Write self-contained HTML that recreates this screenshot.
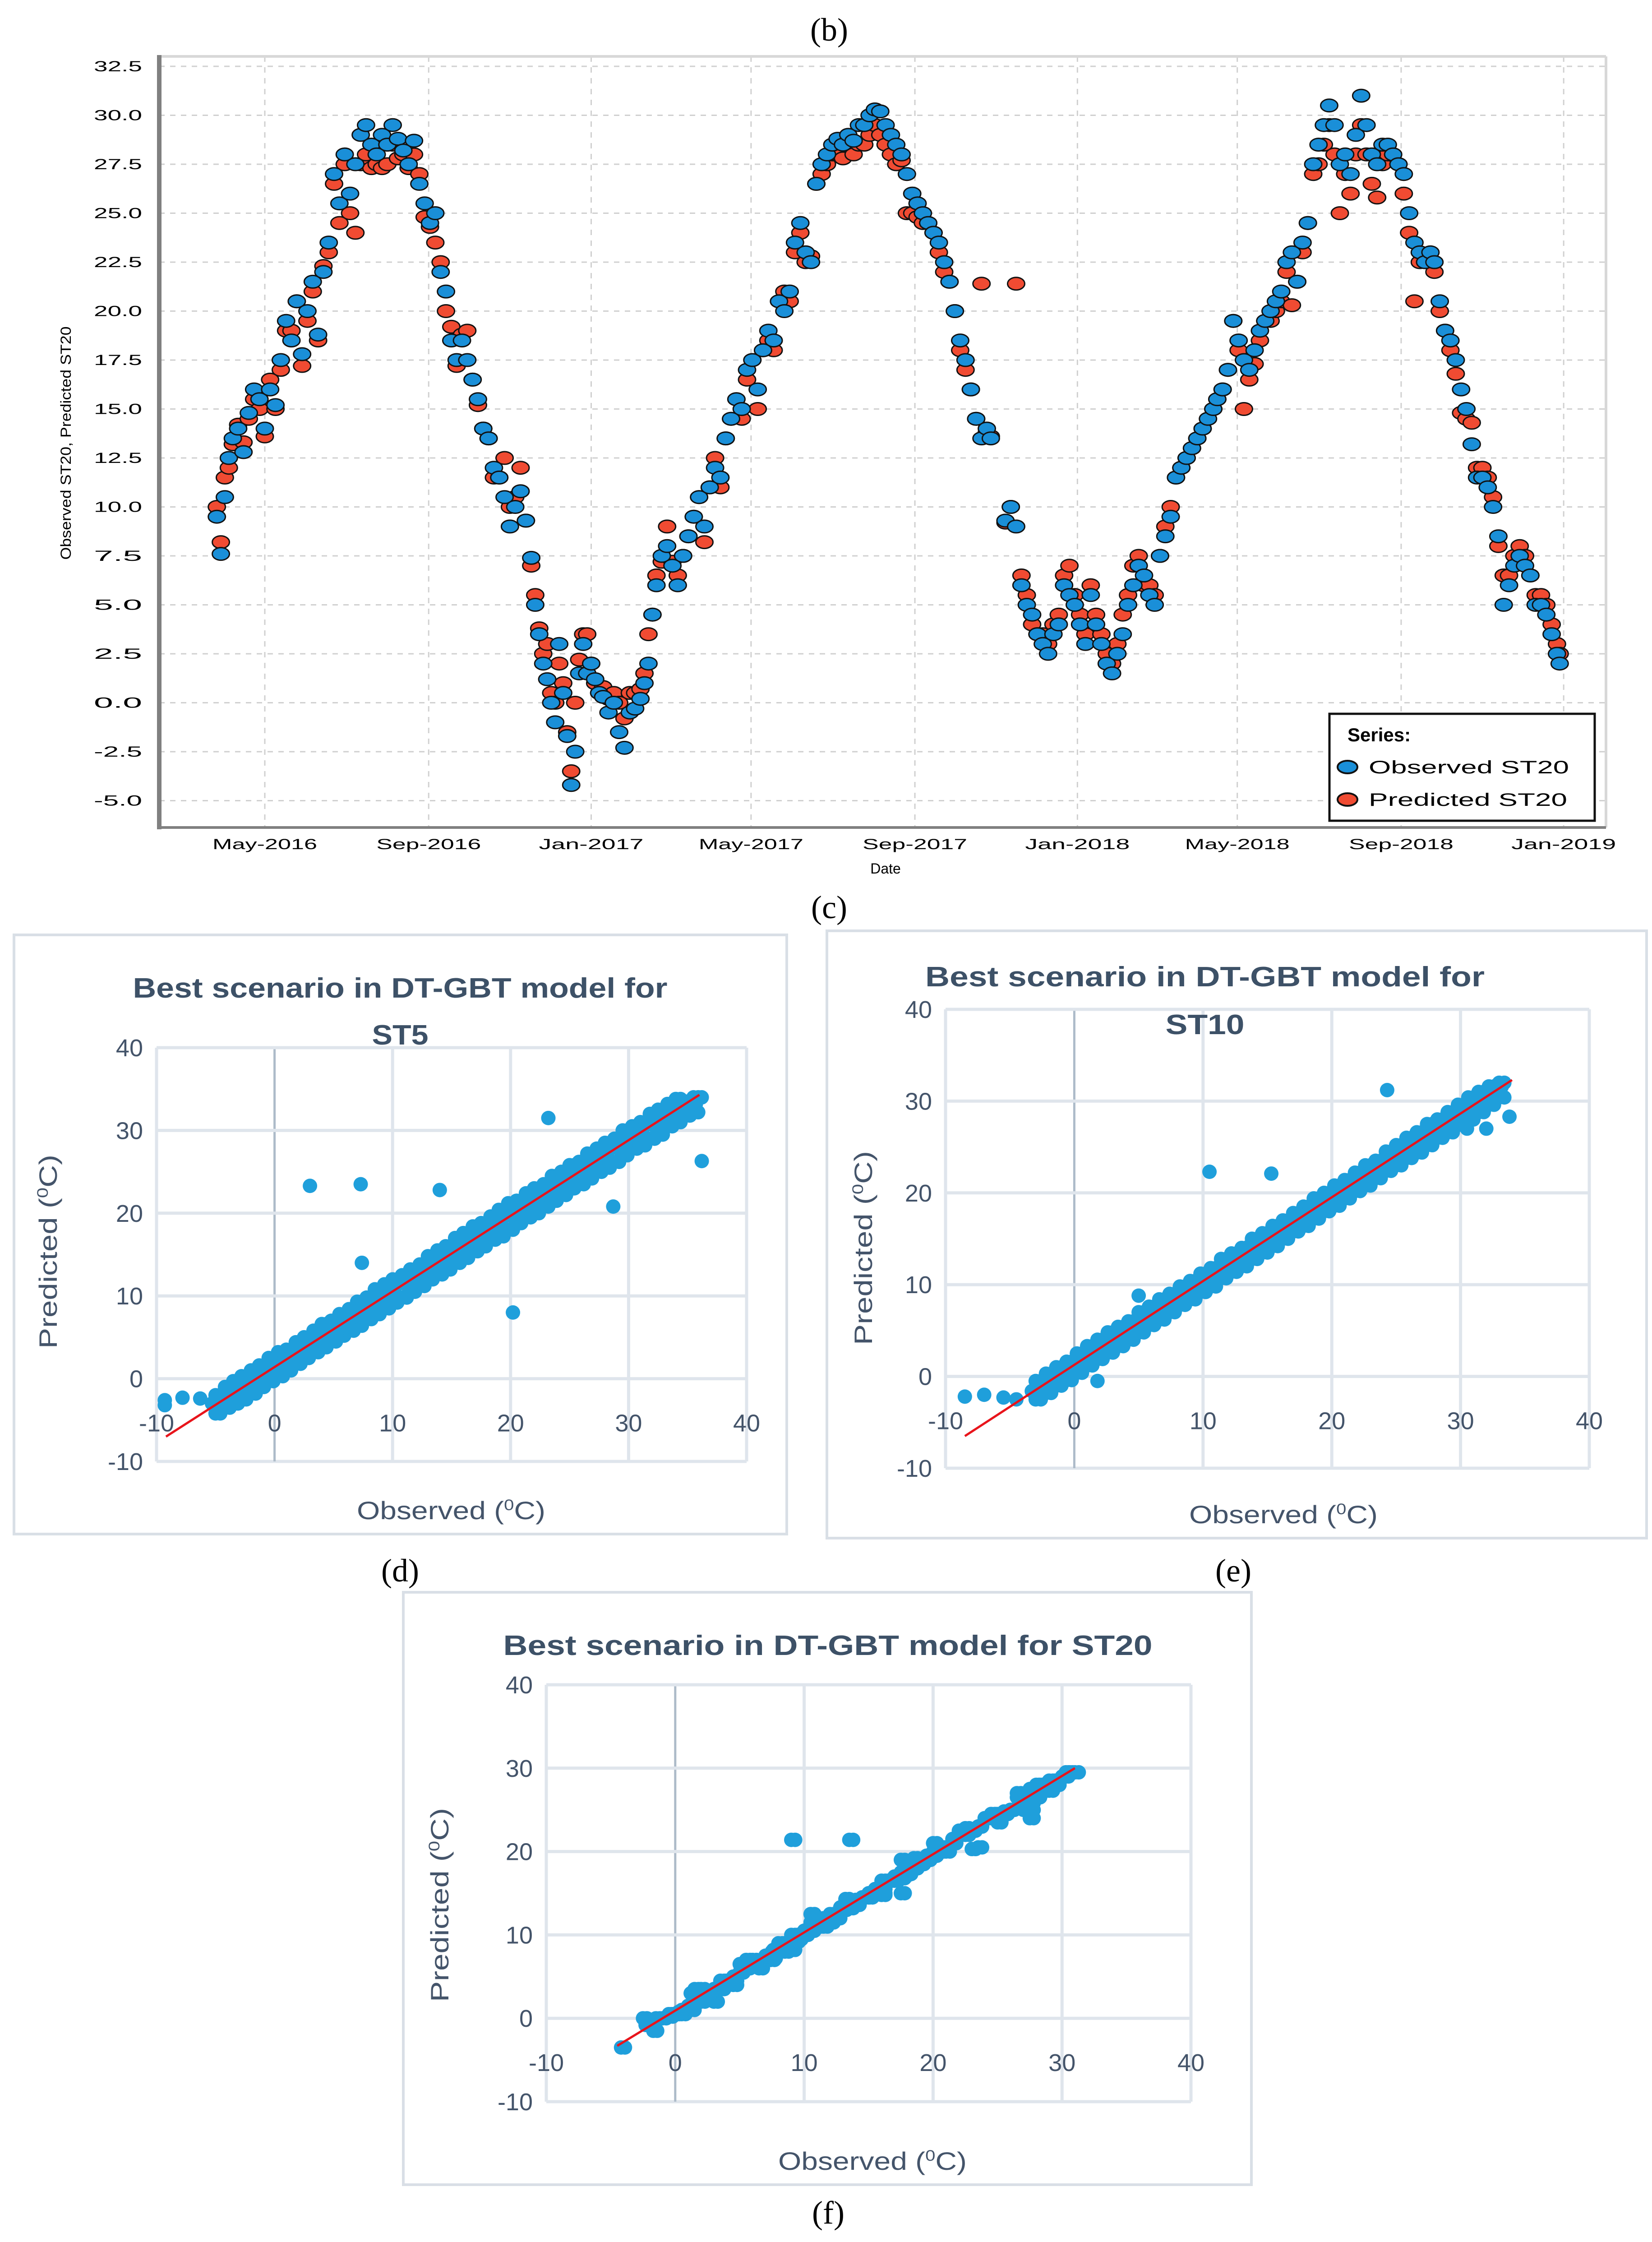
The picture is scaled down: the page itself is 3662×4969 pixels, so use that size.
<!DOCTYPE html>
<html><head><meta charset="utf-8"><style>
html,body{margin:0;padding:0;background:#fff}
svg{display:block}
</style></head><body>
<svg id="fig" xmlns="http://www.w3.org/2000/svg" width="3662" height="4969" viewBox="0 0 3662 4969">
<rect x="0" y="0" width="3662" height="4969" fill="#fff"/>
<g id="ts"></g>
<g id="scD"></g>
<g id="scE"></g>
<g id="scF"></g>
<g font-family="Liberation Serif, serif" font-size="72" fill="#000" text-anchor="middle">
<text x="1838" y="90">(b)</text>
<text x="1838" y="2035">(c)</text>
<text x="887" y="3505">(d)</text>
<text x="2734" y="3505">(e)</text>
<text x="1836" y="4928">(f)</text>
</g>
</svg>
<script>
// ---------- Time-series data (day offset from 1 May 2016) ----------
const tsDays = [
-36,-33,-30,-27,-24,-20,-16,-12,-8,-4,
0,4,8,12,16,20,24,28,32,36,
40,44,48,52,56,60,64,68,72,76,
80,84,88,92,96,100,104,108,112,116,
120,124,128,132,136,140,144,148,152,156,
160,164,168,172,176,180,184,188,192,196,
200,203,206,209,212,215,218,221,224,227,
230,233,236,239,242,245,248,251,254,258,
262,266,270,274,278,282,285,288,291,294,
298,302,306,310,314,318,322,326,330,334,
338,342,346,350,354,358,362,366,370,374,
378,382,386,390,394,398,402,406,410,414,
418,422,426,430,434,438,442,446,450,454,
458,462,466,470,474,478,482,486,490,494,
498,502,506,510,514,518,522,526,530,534,
538,542,545,556,560,564,568,572,576,580,
584,588,592,596,600,604,608,612,616,620,
624,628,632,636,640,644,648,652,656,660,
664,668,672,676,680,684,688,692,696,700,
704,708,712,715,719,723,727,731,735,739,
743,747,751,755,759,763,767,771,775,779,
783,787,791,795,799,803,807,811,815,819,
823,827,831,835,839,843,847,851,855,859,
863,867,871,875,878,882,886,890,894,898,
902,906,910,914,918,922,926,930,934,938,
942,946,950,954,958,962,966,970,972];
const obsST20 = [
9.5,7.6,10.5,12.5,13.5,14,12.8,14.8,16,15.5,
14,16,15.2,17.5,19.5,18.5,20.5,17.8,20,21.5,
18.8,22,23.5,27,25.5,28,26,27.5,29,29.5,
28.5,28,29,28.5,29.5,28.8,28.2,27.5,28.7,26.5,
25.5,24.5,25,22,21,18.5,17.5,18.5,17.5,16.5,
15.5,14,13.5,12,11.5,10.5,9,10,10.8,9.3,
7.4,5,3.5,2,1.2,0,-1,3,0.5,-1.7,
-4.2,-2.5,1.5,3,1.5,2,1.2,0.5,0.3,-0.5,
0,-1.5,-2.3,-0.5,-0.3,0.2,1,2,4.5,6,
7.5,8,7,6,7.5,8.5,9.5,10.5,9,11,
12,11.5,13.5,14.5,15.5,15,17,17.5,16,18,
19,18.5,20.5,20,21,23.5,24.5,23,22.5,26.5,
27.5,28,28.5,28.8,28.5,29,28.7,29.5,29.5,30,
30.3,30.2,29.5,29,28.5,28,27,26,25.5,25,
24.5,24,23.5,22.5,21.5,20,18.5,17.5,16,14.5,
13.5,14,13.5,9.3,10,9,6,5,4.5,3.5,
3,2.5,3.5,4,6,5.5,5,4,3,5.5,
4,3,2,1.5,2.5,3.5,5,6,7,6.5,
5.5,5,7.5,8.5,9.5,11.5,12,12.5,13,13.5,
14,14.5,15,15.5,16,17,19.5,18.5,17.5,17,
18,19,19.5,20,20.5,21,22.5,23,21.5,23.5,
24.5,27.5,28.5,29.5,30.5,29.5,27.5,28,27,29,
31,29.5,28,27.5,28.5,28.5,28,27.5,27,25,
23.5,23,22.5,23,22.5,20.5,19,18.5,17.5,16,
15,13.2,11.5,11.5,11,10,8.5,5,6,7,
7.5,7,6.5,5,5,4.5,3.5,2.5,2];
const predST20 = [
10,8.2,11.5,12,13.2,14.2,13.3,14.5,15.5,15,
13.6,16.5,15,17,19,19,20.5,17.2,19.5,21,
18.5,22.3,23,26.5,24.5,27.5,25,24,27.5,28,
27.3,27.5,27.3,27.5,28.5,27.8,28,27.3,28,27,
24.8,24.3,23.5,22.5,20,19.2,17.2,18.8,19,16.5,
15.2,14,13.5,11.5,11.5,12.5,10,10.5,12,9.3,
7,5.5,3.8,2.5,3,0.5,0,2,1,-1.5,
-3.5,0,2.2,3.5,3.5,2,1,0.5,0.8,0.2,
0.5,0,-0.8,0.5,0.5,0.7,1.5,3.5,4.5,6.5,
7.2,9,7.2,6.5,7.5,8.5,9.5,10.5,8.2,11,
12.5,11,13.5,14.5,15.5,14.5,16.5,17.5,15,18,
18.5,18,20.5,21,20.5,23,24,22.5,22.8,26.5,
27,27.5,28,28,27.8,28.5,28,28.5,28.5,29,
29.5,29,28.5,28,27.5,27.7,25,25,24.8,24.5,
24.5,24,23,22,21.5,20,18,17,16,14.5,
21.4,13.8,13.6,9.2,10,21.4,6.5,5.5,4,3.5,
3.5,3,4,4.5,6.5,7,5.5,4.5,3.5,6,
4.5,3.5,2.5,2,3,4.5,5.5,7,7.5,6,
6,5.5,7.5,9,10,11.5,12,12.5,13,13.5,
14,14.5,15,15.5,16,17,19.5,18,15,16.5,
17.3,18.5,19.5,19.5,20,20.5,22,20.3,21.5,23,
24.5,27,27.5,28.5,29.5,28,25,27,26,28,
29.5,28,26.5,25.8,27.5,28,28,27.5,26,24,
20.5,22.5,22.5,22.5,22,20,19,18,16.8,14.8,
14.5,14.3,12,12,11.5,10.5,8,6.5,6.5,7.5,
8,7.5,6.5,5.5,5.5,5,4,3,2.5];
const tsYTicks = [-5,-2.5,0,2.5,5,7.5,10,12.5,15,17.5,20,22.5,25,27.5,30,32.5];
const tsXTickDays = [0,123,245,365,488,610,730,853,975];
const tsXTickLabels = ['May-2016','Sep-2016','Jan-2017','May-2017','Sep-2017','Jan-2018','May-2018','Sep-2018','Jan-2019'];

// ---------- Scatter data ----------
const obsST5 = [-5,-4.2,-3.5,-2.8,-2,-1.3,-0.5,0.3,1,1.8,2.5,3.3,4,4.8,5.5,6.3,7,7.8,8.5,9.3,10,10.8,11.5,12.3,13,13.8,14.5,15.3,16,16.8,17.5,18.3,19,19.8,20.5,21.3,22,22.8,23.5,24.3,25,25.8,26.5,27.3,28,28.8,29.5,30.3,31,31.8,32.5,33.3,34,34.8,35.5];
const predST5Hi = [-2.0,-1.0,-0.3,0.3,1.0,1.6,2.5,3.2,3.5,4.4,5.0,5.8,6.6,7.0,7.8,8.4,9.3,9.8,10.8,11.4,12.0,12.5,13.2,13.8,14.8,15.5,16.0,17.0,17.6,18.4,18.8,19.6,20.4,21.2,21.5,22.4,23.0,23.5,24.5,25.0,25.8,26.2,27.2,27.8,28.5,29.0,30.0,30.5,31.0,32.0,32.5,33.2,33.8,33.5,34.0];
const predST5Mid = [-3.0,-2.2,-1.9,-1.0,-0.5,0.4,0.8,1.9,2.1,3.2,3.5,4.6,4.9,6.0,6.2,7.4,7.6,8.7,9.0,10.1,10.3,11.5,11.7,12.8,13.1,14.2,14.5,15.6,15.8,17.0,17.2,18.3,18.6,19.7,19.9,21.1,21.3,22.4,22.7,23.8,24.1,25.2,25.4,26.6,26.8,27.9,28.2,29.3,29.5,30.7,30.9,31.6,32.3,32.6,33.2];
const predST5Lo = [-4.2,-3.5,-3.0,-2.5,-1.8,-1.0,-0.3,0.3,1.0,1.8,2.5,3.2,3.8,4.5,5.2,5.8,6.4,7.2,7.8,8.5,9.2,9.8,10.5,11.2,12.0,12.6,13.2,14.0,14.6,15.4,16.0,16.8,17.2,18.0,18.8,19.5,20.0,20.8,21.5,22.2,23.0,23.5,24.2,25.0,25.5,26.2,27.0,27.8,28.2,29.0,29.5,30.5,31.0,31.8,32.2];
const outObsST5 = [3,7.3,20.2,36.2,28.7,23.2,14,7.4,-9.3,-7.8,-6.3,36.2,-9.3];
const outPredST5 = [23.3,23.5,8,26.3,20.8,31.5,22.8,14,-2.6,-2.3,-2.4,34,-3.2];
const fitST5 = [-9.2,-7,36,34.3];

const obsST10 = [-3,-2.2,-1.4,-0.6,0.2,1,1.8,2.6,3.4,4.2,5,5.8,6.6,7.4,8.2,9,9.8,10.6,11.4,12.2,13,13.8,14.6,15.4,16.2,17,17.8,18.6,19.4,20.2,21,21.8,22.6,23.4,24.2,25,25.8,26.6,27.4,28.2,29,29.8,30.6,31.4,32.2,33];
const predST10Hi = [-0.5,0.3,1.0,1.6,2.5,3.3,4.0,4.8,5.4,6.0,7.0,7.6,8.4,9.0,9.8,10.4,11.2,11.8,12.8,13.4,14.0,15.0,15.6,16.4,17.0,17.8,18.5,19.4,20.0,20.8,21.4,22.2,23.0,23.5,24.5,25.2,26.0,26.6,27.5,28.0,28.8,29.6,30.4,31.0,31.6,32.0];
const predST10Mid = [-1.6,-0.6,-0.1,0.9,1.3,2.4,2.8,3.8,4.3,5.3,5.7,6.8,7.2,8.2,8.6,9.7,10.1,11.1,11.6,12.6,13.0,14.1,14.5,15.5,15.9,17.0,17.4,18.4,18.9,19.9,20.3,21.4,21.8,22.8,23.3,24.3,24.7,25.7,26.2,27.2,27.6,28.7,29.1,30.1,30.6,31.6];
const predST10Lo = [-2.5,-1.8,-1.0,-0.4,0.4,1.2,1.9,2.6,3.3,4.0,4.8,5.6,6.2,7.0,7.8,8.4,9.2,9.8,10.7,11.4,12.0,12.8,13.5,14.2,15.0,15.8,16.4,17.2,18.0,18.6,19.4,20.2,20.8,21.6,22.4,23.0,23.8,24.4,25.2,26.0,26.6,27.4,28.0,28.8,29.6,30.4];
const outObsST10 = [10.5,15.3,24.3,33.8,-8.5,-7,-5.5,1.8,-4.5,5,32,30.5];
const outPredST10 = [22.3,22.1,31.2,28.3,-2.2,-2,-2.3,-0.5,-2.5,8.8,27,27];
const fitST10 = [-8.5,-6.5,34,32.3];
const fitST20 = [-4.5,-3.3,31,30];
const scTicks = [-10,0,10,20,30,40];

const NS='http://www.w3.org/2000/svg';
function mk(parent, tag, attrs, text){
  const e=document.createElementNS(NS,tag);
  for(const k in attrs) e.setAttribute(k,attrs[k]);
  if(text!==undefined) e.textContent=text;
  parent.appendChild(e); return e;
}

// ---------- Time series ----------
(function(){
  const g=document.getElementById('ts');
  const xDay=d=>587+d*2.953;
  const yV=v=>147+(32.5-v)*43.4;
  const L=353,R=3560,T=125,B=1834;
  tsYTicks.forEach(v=>{
    const l=mk(g,'line',{x1:L,x2:R,y1:yV(v),y2:yV(v),stroke:'#d0d0d0','stroke-width':3,'stroke-dasharray':'12,12'});
    
    
    const t=mk(g,'text',{x:315,y:yV(v)+11,'text-anchor':'end','font-family':'Liberation Sans, sans-serif','font-size':32,fill:'#000',textLength:107,lengthAdjust:'spacingAndGlyphs'},v.toFixed(1));
    
    
  });
  tsXTickDays.forEach((d,i)=>{
    const l=mk(g,'line',{x1:xDay(d),x2:xDay(d),y1:T,y2:B,stroke:'#d0d0d0','stroke-width':3,'stroke-dasharray':'12,12'});
    
    
    const t=mk(g,'text',{x:xDay(d),y:1882,'text-anchor':'middle','font-family':'Liberation Sans, sans-serif','font-size':32,fill:'#000',textLength:232,lengthAdjust:'spacingAndGlyphs'},tsXTickLabels[i]);
    
    
  });
  const tb=mk(g,'line',{x1:L,x2:R,y1:T,y2:T,stroke:'#d8d8d8','stroke-width':6});
   
  const rb=mk(g,'line',{x1:R,x2:R,y1:T,y2:B,stroke:'#d8d8d8','stroke-width':6});
   
  const gp=mk(g,'g',{});
   
  tsDays.forEach((d,i)=>{
    const e=mk(gp,'ellipse',{cx:xDay(d),cy:yV(predST20[i]),rx:19,ry:14,fill:'#f04b32',stroke:'#111','stroke-width':3});
    
    
  });
  const go=mk(g,'g',{});
   
  tsDays.forEach((d,i)=>{
    const e=mk(go,'ellipse',{cx:xDay(d),cy:yV(obsST20[i]),rx:19,ry:14,fill:'#1a8fd8',stroke:'#111','stroke-width':3});
    
    
  });
  const ax=mk(g,'line',{x1:353,x2:353,y1:122,y2:1838,stroke:'#808080','stroke-width':10});
   
  const bx=mk(g,'line',{x1:348,x2:R,y1:B,y2:B,stroke:'#808080','stroke-width':6});
   
  const dt=mk(g,'text',{x:1963,y:1936,'text-anchor':'middle','font-family':'Liberation Sans, sans-serif','font-size':32,fill:'#000'},'Date');
   
  const yt=mk(g,'text',{x:0,y:0,transform:'translate(157,982) rotate(-90)','text-anchor':'middle','font-family':'Liberation Sans, sans-serif','font-size':32,fill:'#000',textLength:517,lengthAdjust:'spacingAndGlyphs'},'Observed ST20, Predicted ST20');
   
  const lg=mk(g,'g',{});
   
  mk(lg,'rect',{x:2947,y:1582,width:588,height:237,fill:'#fff',stroke:'#111','stroke-width':5});
  const lt=mk(lg,'text',{x:2987,y:1643,'font-family':'Liberation Sans, sans-serif','font-size':42,'font-weight':'bold',fill:'#000'},'Series:');
   
  const e1=mk(lg,'ellipse',{cx:2987,cy:1700,rx:22,ry:14,fill:'#1a8fd8',stroke:'#111','stroke-width':4});
   
  const t1=mk(lg,'text',{x:3034,y:1714,'font-family':'Liberation Sans, sans-serif','font-size':40,fill:'#000',textLength:444,lengthAdjust:'spacingAndGlyphs'},'Observed ST20');
   
  const e2=mk(lg,'ellipse',{cx:2987,cy:1772,rx:22,ry:14,fill:'#f04b32',stroke:'#111','stroke-width':4});
   
  const t2=mk(lg,'text',{x:3034,y:1786,'font-family':'Liberation Sans, sans-serif','font-size':40,fill:'#000',textLength:440,lengthAdjust:'spacingAndGlyphs'},'Predicted ST20');
   
})();

// ---------- Scatter panels ----------
function scatter(id,cfg){
  const g=document.getElementById(id);
  const xs=v=>cfg.x0+(v+10)/50*(cfg.x1-cfg.x0);
  const ys=v=>cfg.y0+(40-v)/50*(cfg.y1-cfg.y0);
  const F='Liberation Sans, "DejaVu Sans", sans-serif', C='#44546a';
  const box=mk(g,'rect',{x:cfg.box[0],y:cfg.box[1],width:cfg.box[2]-cfg.box[0],height:cfg.box[3]-cfg.box[1],fill:'#fff',stroke:'#d9dfe6','stroke-width':6});
   
  scTicks.forEach(v=>{
    const h=mk(g,'line',{x1:cfg.x0,x2:cfg.x1,y1:ys(v),y2:ys(v),stroke:'#dfe5ec','stroke-width':7});
     
    const vl=mk(g,'line',{x1:xs(v),x2:xs(v),y1:cfg.y0,y2:cfg.y1,stroke:v===0?'#adbbc9':'#dfe5ec','stroke-width':v===0?5:7});
     
    const ty=mk(g,'text',{x:cfg.x0-30,y:ys(v)+19,'text-anchor':'end','font-family':F,'font-size':54,fill:C},String(v));
     
    const tx=mk(g,'text',{x:xs(v),y:ys(0)+117,'text-anchor':'middle','font-family':F,'font-size':54,fill:C},String(v));
     
  });
  const pts=mk(g,'g',{});
   
  cfg.sets.forEach(s=>{
    s[0].forEach((o,i)=>{
      const c=mk(pts,'circle',{cx:xs(o+(s[2]||0)),cy:ys(s[1][i]),r:16,fill:'#1f9fdb'});
      
      
    });
  });
  const f=cfg.fit;
  const ln=mk(g,'line',{x1:xs(f[0]),y1:ys(f[1]),x2:xs(f[2]),y2:ys(f[3]),stroke:'#e8141b','stroke-width':5});
   
  cfg.title.forEach((t,i)=>{
    const tt=mk(g,'text',{x:cfg.tx,y:cfg.ty[i],'text-anchor':'middle','font-family':F,'font-size':62,'font-weight':'bold',fill:'#3d5167',textLength:cfg.tl[i],lengthAdjust:'spacingAndGlyphs'},t);
     
  });
  const ob=mk(g,'text',{x:cfg.ox,y:cfg.oy+20,'text-anchor':'middle','font-family':F,'font-size':56,fill:C,textLength:418,lengthAdjust:'spacingAndGlyphs'});
   
  ob.appendChild(document.createTextNode('Observed ('));
  mk(ob,'tspan',{'font-size':34,dy:-20},'0');
  mk(ob,'tspan',{dy:20},'C)');
  const pr=mk(g,'text',{x:0,y:0,transform:`translate(${cfg.px+20},${cfg.py}) rotate(-90)`,'text-anchor':'middle','font-family':F,'font-size':56,fill:C,textLength:430,lengthAdjust:'spacingAndGlyphs'});
   
  pr.appendChild(document.createTextNode('Predicted  ('));
  mk(pr,'tspan',{'font-size':34,dy:-20},'0');
  mk(pr,'tspan',{dy:20},'C)');
}
scatter('scD',{box:[31,2072,1744,3400],x0:347,x1:1655,y0:2322,y1:3239,
  sets:[[obsST5,predST5Hi,0],[obsST5,predST5Hi,0.4],[obsST5,predST5Lo,0.4],[obsST5,predST5Lo,0],[obsST5,predST5Mid,0.2],[obsST5,predST5Mid,-0.3],[outObsST5,outPredST5,0]],fit:fitST5,
  title:['Best scenario in DT-GBT model for','ST5'],tl:[1185,125],tx:887,ty:[2211,2315],ox:1000,oy:3347,px:106,py:2774});
scatter('scE',{box:[1833,2063,3650,3409],x0:2096,x1:3523,y0:2237,y1:3254,
  sets:[[obsST10,predST10Hi,0],[obsST10,predST10Hi,0.4],[obsST10,predST10Lo,0.4],[obsST10,predST10Lo,0],[obsST10,predST10Mid,0.2],[obsST10,predST10Mid,-0.3],[outObsST10,outPredST10,0]],fit:fitST10,
  title:['Best scenario in DT-GBT model for','ST10'],tl:[1240,175],tx:2671,ty:[2186,2292],ox:2845,oy:3356,px:1913,py:2766});
scatter('scF',{box:[894,3529,2774,4842],x0:1211,x1:2640,y0:3734,y1:4658,
  sets:[[obsST20,predST20,0],[obsST20,predST20,0.3]],fit:fitST20,
  title:['Best scenario in DT-GBT model for ST20'],tl:[1439],tx:1835,ty:[3668],ox:1934,oy:4789,px:974,py:4222});
</script>
</body></html>
